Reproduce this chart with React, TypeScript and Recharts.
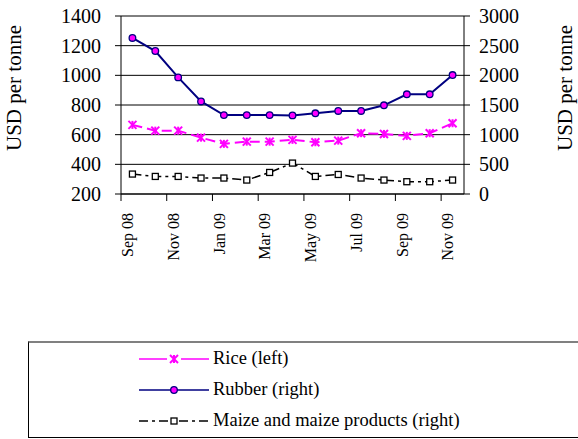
import React from 'react';
import { LineChart, Line, XAxis, YAxis, CartesianGrid, Legend, Label } from 'recharts';

const months = ['Sep 08', 'Oct 08', 'Nov 08', 'Dec 08', 'Jan 09', 'Feb 09', 'Mar 09', 'Apr 09', 'May 09', 'Jun 09', 'Jul 09', 'Aug 09', 'Sep 09', 'Oct 09', 'Nov 09'];
const rice = [666, 627, 627, 580, 538, 553, 553, 565, 549, 560, 610, 605, 592, 610, 677];
const rubber = [2630, 2410, 1965, 1560, 1330, 1330, 1330, 1325, 1360, 1400, 1400, 1495, 1680, 1680, 2005];
const maize = [336, 296, 296, 269, 269, 235, 363, 521, 296, 329, 269, 235, 207, 207, 235];
const leftTicks = [200, 400, 600, 800, 1000, 1200, 1400];
const rightTicks = [0, 500, 1000, 1500, 2000, 2500, 3000];
const legendOrder = ['rice', 'rubber', 'maize'];

const W = 578;
const H = 439;
const LEFT_W = 121;
const RIGHT_W = 114;
const FONT = 'Liberation Serif, Times New Roman, serif';
const MAGENTA = '#FF00FF';
const NAVY = '#000080';

const data = months.map((m, i) => ({
  month: m,
  rice: rice[i],
  rubber: rubber[i],
  maize: maize[i],
}));

// categories sit in the middle of equal slots, like the original
const bandW = (W - LEFT_W - RIGHT_W) / months.length;

const MonthTick = (props: any) => {
  const { x, y, payload } = props;
  const bx = x - bandW / 2;
  return (
    <g>
      <line x1={bx} x2={bx} y1={y - 19} y2={y - 12} stroke="#000" />
      <text
        transform={`translate(${x},${y}) rotate(-90)`}
        textAnchor="end"
        dy="0.05em"
        fontFamily={FONT}
        fontSize={16}
        fill="#000"
      >
        {payload.value}
      </text>
    </g>
  );
};

const Star = (props: any) => {
  const { cx, cy } = props;
  if (cx == null || cy == null) return null;
  return (
    <g stroke={MAGENTA} strokeWidth={2}>
      <line x1={cx - 4} y1={cy - 4} x2={cx + 4} y2={cy + 4} />
      <line x1={cx - 4} y1={cy + 4} x2={cx + 4} y2={cy - 4} />
      <line x1={cx} y1={cy - 4} x2={cx} y2={cy + 4} />
    </g>
  );
};

const Ball = (props: any) => {
  const { cx, cy } = props;
  if (cx == null || cy == null) return null;
  return <circle cx={cx} cy={cy} r={3.3} fill={MAGENTA} stroke={NAVY} strokeWidth={1.3} />;
};

const Box = (props: any) => {
  const { cx, cy } = props;
  if (cx == null || cy == null) return null;
  return <rect x={cx - 3} y={cy - 3} width={6} height={6} fill="#fff" stroke="#000" strokeWidth={1.3} />;
};

const legendMark = (key: string) => {
  if (key === 'rice') {
    return (
      <svg width={70} height={12}>
        <line x1={0} x2={70} y1={6} y2={6} stroke={MAGENTA} strokeWidth={1.5} />
        <rect x={28} y={1} width={14} height={10} fill="#fff" />
        <Star cx={35} cy={6} />
      </svg>
    );
  }
  if (key === 'rubber') {
    return (
      <svg width={70} height={12}>
        <line x1={0} x2={70} y1={6} y2={6} stroke={NAVY} strokeWidth={1.5} />
        <Ball cx={35} cy={6} />
      </svg>
    );
  }
  return (
    <svg width={70} height={12}>
      <line x1={0} x2={70} y1={6} y2={6} stroke="#000" strokeWidth={1.5} strokeDasharray="9 4 3 4" />
      <Box cx={35} cy={6} />
    </svg>
  );
};

const renderLegend = (props: any) => {
  const items = [...(props.payload || [])].sort(
    (a: any, b: any) => legendOrder.indexOf(a.dataKey) - legendOrder.indexOf(b.dataKey)
  );
  return (
    <div
      style={{
        boxSizing: 'border-box',
        width: 560,
        height: 97,
        borderTop: '2px solid #808080',
        borderLeft: '1px solid #000',
        borderBottom: '1px solid #000',
        background: '#fff',
      }}
    >
      {items.map((entry: any) => (
        <div
          key={entry.dataKey}
          style={{ height: 31, display: 'flex', alignItems: 'center', paddingLeft: 110 }}
        >
          {legendMark(entry.dataKey)}
          <span style={{ marginLeft: 4, fontFamily: FONT, fontSize: 18.5, color: '#000', lineHeight: '31px' }}>
            {entry.value}
          </span>
        </div>
      ))}
    </div>
  );
};

const axisTitle = (x: number) => () => (
  <text
    transform={`translate(${x},88) rotate(-90)`}
    textAnchor="middle"
    fontFamily={FONT}
    fontSize={21}
    fill="#000"
  >
    USD per tonne
  </text>
);

export default function App() {
  return (
    <div style={{ position: 'absolute', left: 0, top: 0, width: W, height: H, overflow: 'hidden', background: '#fff', fontFamily: FONT }}>
      <LineChart width={W} height={H} data={data} margin={{ top: 16, right: 0, bottom: 185, left: 0 }} style={{ fontFamily: FONT }}>
        <CartesianGrid yAxisId="left" vertical={false} stroke="#000" />
        <XAxis
          dataKey="month"
          interval={1}
          height={60}
          padding={{ left: bandW / 2, right: bandW / 2 }}
          tickSize={7}
          tickMargin={12}
          tickLine={false}
          axisLine={{ stroke: '#000' }}
          tick={<MonthTick />}
        />
        <YAxis
          yAxisId="left"
          orientation="left"
          width={LEFT_W}
          domain={[200, 1400]}
          ticks={leftTicks}
          tickSize={6}
          tickMargin={14}
          axisLine={{ stroke: '#000' }}
          tickLine={{ stroke: '#000' }}
          tick={{ fontFamily: FONT, fontSize: 20, fill: '#000' }}
        >
          <Label content={axisTitle(20.5)} />
        </YAxis>
        <YAxis
          yAxisId="right"
          orientation="right"
          width={RIGHT_W}
          domain={[0, 3000]}
          ticks={rightTicks}
          tickSize={6}
          tickMargin={9}
          axisLine={{ stroke: '#000' }}
          tickLine={{ stroke: '#000' }}
          tick={{ fontFamily: FONT, fontSize: 20, fill: '#000' }}
        >
          <Label content={axisTitle(572)} />
        </YAxis>
        <Line
          yAxisId="left"
          dataKey="rice"
          name="Rice (left)"
          stroke={MAGENTA}
          strokeWidth={2}
          strokeDasharray="10 5"
          dot={<Star />}
          activeDot={false}
          isAnimationActive={false}
        />
        <Line
          yAxisId="right"
          dataKey="rubber"
          name="Rubber (right)"
          stroke={NAVY}
          strokeWidth={2}
          dot={<Ball />}
          activeDot={false}
          isAnimationActive={false}
        />
        <Line
          yAxisId="right"
          dataKey="maize"
          name="Maize and maize products (right)"
          stroke="#000"
          strokeWidth={1.5}
          strokeDasharray="9 4 3 4"
          dot={<Box />}
          activeDot={false}
          isAnimationActive={false}
        />
        <Legend
          layout="vertical"
          align="center"
          verticalAlign="middle"
          content={renderLegend}
          wrapperStyle={{ position: 'absolute', left: 28, top: 341, width: 560, height: 97 }}
        />
      </LineChart>
    </div>
  );
}
